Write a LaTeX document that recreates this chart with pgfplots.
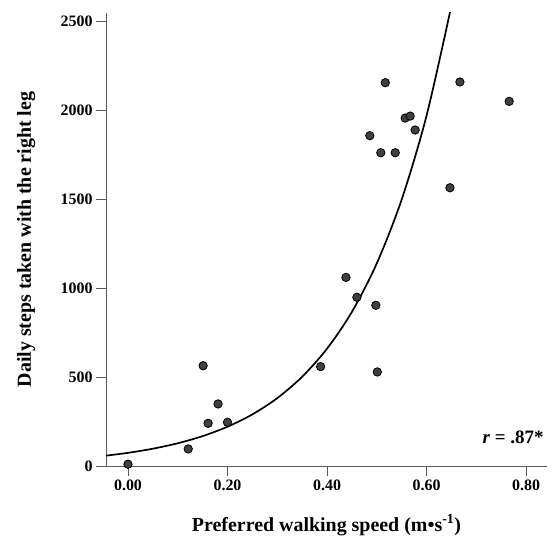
\documentclass[border=0pt]{standalone}
\usepackage{pgfplots}
\pgfplotsset{compat=1.18}
\usepackage{fontspec}
\setmainfont{Liberation Serif}
\begin{document}
\begin{tikzpicture}
\useasboundingbox (-106bp,-74bp) rectangle (454bp,466bp);
\begin{axis}[
  at={(0,0)}, anchor=south west,
  scale only axis, width=441bp, height=453bp,
  xmin=-0.0442, xmax=0.842, ymin=0, ymax=2548,
  axis x line=bottom, axis y line=left,
  axis line style={-, draw=black!65, line width=0.9bp},
  xtick={0,0.2,0.4,0.6,0.8}, ytick={0,500,1000,1500,2000,2500},
  tick align=outside, major tick length=10bp,
  tick style={black!65, line width=0.9bp},
  xticklabel style={/pgf/number format/.cd, fixed, fixed zerofill, precision=2},
  /pgf/number format/assume math mode=true,
  /pgf/number format/1000 sep={},
  ticklabel style={font=\bfseries\fontsize{16}{16}\selectfont},
  xlabel={Preferred walking speed (m\textbullet s\textsuperscript{-1})},
  ylabel={Daily steps taken with the right leg},
  label style={font=\bfseries\fontsize{20}{20}\selectfont},
  xlabel style={at={(axis description cs:0.5,-0.130)}, anchor=center},
  ylabel style={at={(axis description cs:-0.181,0.5)}, anchor=center},
  clip mode=individual,
]
\addplot[black, line width=1.7bp, smooth] table {
x y
-0.0442 58.3
0.00 74
0.05 97.3
0.10 127.9
0.15 168.1
0.20 221
0.25 290.5
0.30 381.8
0.35 502
0.40 660
0.45 867
0.50 1140
0.55 1499
0.60 1971
0.65 2590
};
\addplot[only marks, mark=*, mark size=4.2bp, mark options={fill=black!75, draw=black, line width=0.8bp}] table {
x y
0.000 10
0.121 96
0.151 564
0.161 240
0.181 349
0.200 246
0.387 559
0.438 1061
0.460 949
0.498 904
0.501 529
0.517 2156
0.667 2160
0.766 2051
0.557 1957
0.567 1968
0.577 1890
0.486 1858
0.508 1762
0.537 1762
0.647 1565
};
\node[anchor=base east, font=\bfseries\fontsize{19}{19}\selectfont] at (rel axis cs:1,0) [yshift=23bp] {\textit{r} = .87*};
\end{axis}
\end{tikzpicture}
\end{document}
